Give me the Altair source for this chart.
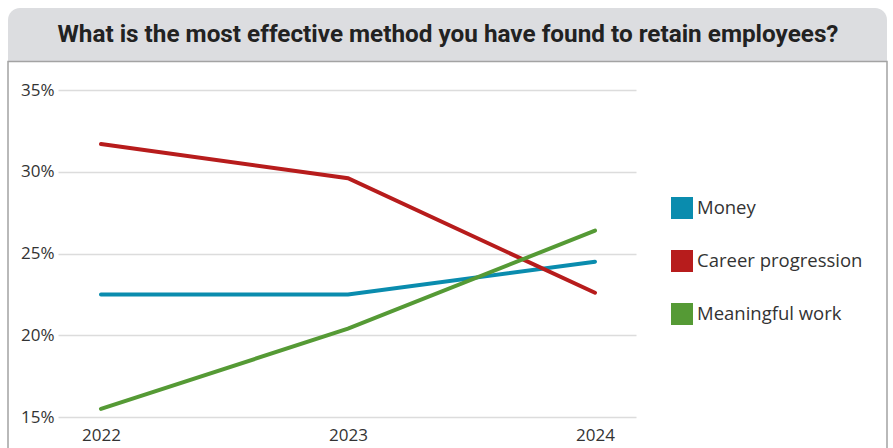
import altair as alt
import pandas as pd

years = [2022, 2023, 2024]
series_names = ["Money", "Career progression", "Meaningful work"]
money = [22.5, 22.5, 24.5]
career = [31.7, 29.6, 22.6]
meaningful = [15.5, 20.4, 26.4]
colors = ["#0a8cae", "#b71c1c", "#559a35"]
y_ticks = [15, 20, 25, 30, 35]
title_text = "What is the most effective method you have found to retain employees?"

rows = []
for name, vals in zip(series_names, [money, career, meaningful]):
    for yr, v in zip(years, vals):
        rows.append({"year": yr, "value": v, "series": name})
df = pd.DataFrame(rows)

W, H = 578, 327
FONT = "Open Sans"

base = alt.Chart(df)
one = pd.DataFrame({"t": [title_text]})

title_bar = alt.Chart(one).mark_rect(
    fill="#dcdde0", cornerRadiusTopLeft=12, cornerRadiusTopRight=12
).encode(x=alt.value(-50), x2=alt.value(829), y=alt.value(-82), y2=alt.value(-29))

box = alt.Chart(one).mark_rect(
    fill=None, stroke="#a3a3a3", strokeWidth=1.5
).encode(x=alt.value(-50), x2=alt.value(829), y=alt.value(-28.5), y2=alt.value(400))

title = alt.Chart(one).mark_text(
    font="Roboto", fontWeight="bold", fontSize=24.3, color="#222222",
    align="center", baseline="alphabetic"
).encode(x=alt.value(390), y=alt.value(-48), text="t:N")

lines = base.mark_line(strokeWidth=4, strokeCap="round").encode(
    x=alt.X("year:Q", scale=alt.Scale(domain=[2021.826, 2024.166], nice=False, zero=False),
            axis=alt.Axis(values=years, format="d", grid=False, domain=False, ticks=False,
                          labelFontSize=17, labelFont=FONT, labelColor="#333333",
                          labelPadding=10, title=None)),
    y=alt.Y("value:Q", scale=alt.Scale(domain=[15, 35], nice=False, zero=False),
            axis=alt.Axis(values=y_ticks, labelExpr="datum.value + '%'", grid=True,
                          gridColor="#dcdcdc", gridWidth=1.5, domain=False, ticks=False,
                          labelFontSize=17, labelFont=FONT, labelColor="#333333",
                          labelPadding=4, title=None)),
    color=alt.Color("series:N", sort=series_names,
                    scale=alt.Scale(domain=series_names, range=colors),
                    legend=alt.Legend(title=None, orient="none", legendX=613, legendY=107,
                                      symbolType="square", symbolSize=121,
                                      symbolStrokeWidth=11, labelFontSize=18.5, labelFont=FONT,
                                      labelColor="#333333", labelOffset=4, rowPadding=-3,
                                      labelLimit=300, padding=0)),
)

chart = alt.layer(title_bar, box, title, lines).properties(
    width=W, height=H,
    autosize=alt.AutoSizeParams(type="none"),
    padding={"left": 58, "top": 90, "right": 257, "bottom": 31},
    background="white",
).configure_view(stroke=None)

chart.save("out.html", embed_options={"renderer": "svg", "actions": False})
